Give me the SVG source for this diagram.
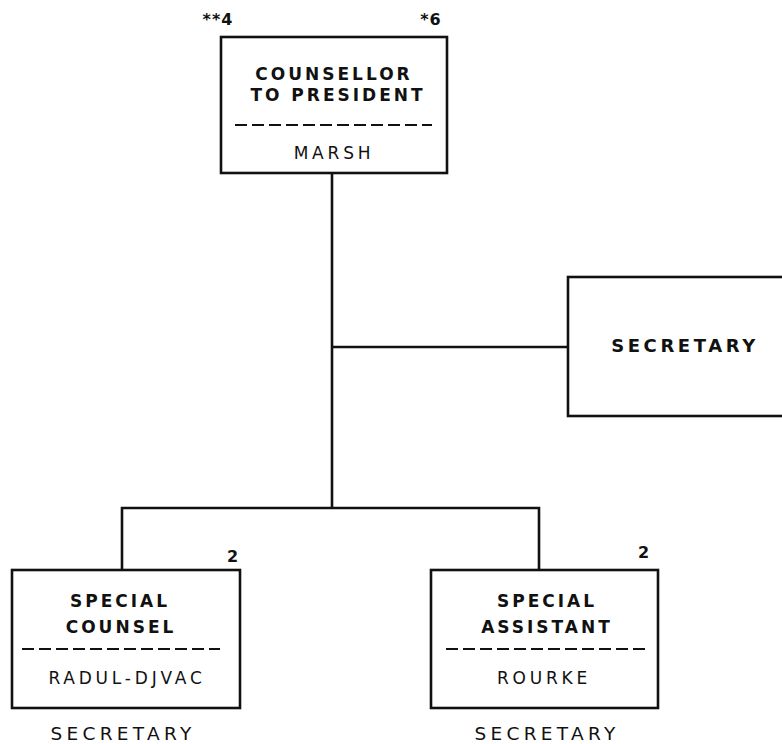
<svg xmlns="http://www.w3.org/2000/svg" width="782" height="744" viewBox="0 0 782 744">
  <style>
    .box { fill: #fff; stroke: #111; stroke-width: 2.6; }
    .wire { fill: none; stroke: #111; stroke-width: 2.6; }
    .dash { stroke: #111; stroke-width: 2; stroke-dasharray: 12 5; }
    .t { font-family: "DejaVu Sans", "Liberation Sans", sans-serif; fill: #111; text-anchor: middle; }
    .title { font-size: 17px; font-weight: bold; letter-spacing: 3px; }
    .big { font-size: 18px; font-weight: bold; letter-spacing: 3.6px; }
    .name { font-size: 17px; letter-spacing: 3.8px; }
    .sec { font-size: 18.5px; letter-spacing: 4.3px; }
    .num { font-size: 16px; font-weight: bold; letter-spacing: 1px; }
  </style>
  <rect width="782" height="744" fill="#fff"/>

  <g id="connectors">
    <path class="wire" d="M332 173 V508"/>
    <path class="wire" d="M332 347 H568"/>
    <path class="wire" d="M122 570 V508 H539 V570"/>
  </g>

  <g id="counsellor">
    <rect class="box" x="221" y="37" width="226" height="136"/>
    <text class="t num" x="218" y="25">**4</text>
    <text class="t num" x="431" y="25">*6</text>
    <text class="t title" x="334" y="80">COUNSELLOR</text>
    <text class="t title" x="338" y="101">TO PRESIDENT</text>
    <line class="dash" x1="235" y1="125" x2="432" y2="125"/>
    <text class="t name" x="334" y="159">MARSH</text>
  </g>

  <g id="secretary">
    <rect class="box" x="568" y="277" width="220" height="139"/>
    <text class="t big" x="685" y="352">SECRETARY</text>
  </g>

  <g id="special-counsel">
    <rect class="box" x="12" y="570" width="228" height="138"/>
    <text class="t num" x="233" y="562">2</text>
    <text class="t title" x="120" y="607">SPECIAL</text>
    <text class="t title" x="121" y="633">COUNSEL</text>
    <line class="dash" x1="22" y1="649" x2="220" y2="649"/>
    <text class="t name" x="127" y="684">RADUL-DJVAC</text>
    <text class="t sec" x="123" y="740">SECRETARY</text>
  </g>

  <g id="special-assistant">
    <rect class="box" x="431" y="570" width="227" height="138"/>
    <text class="t num" x="644" y="558">2</text>
    <text class="t title" x="547" y="607">SPECIAL</text>
    <text class="t title" x="547" y="633">ASSISTANT</text>
    <line class="dash" x1="446" y1="649" x2="645" y2="649"/>
    <text class="t name" x="544" y="684">ROURKE</text>
    <text class="t sec" x="547" y="740">SECRETARY</text>
  </g>
</svg>
